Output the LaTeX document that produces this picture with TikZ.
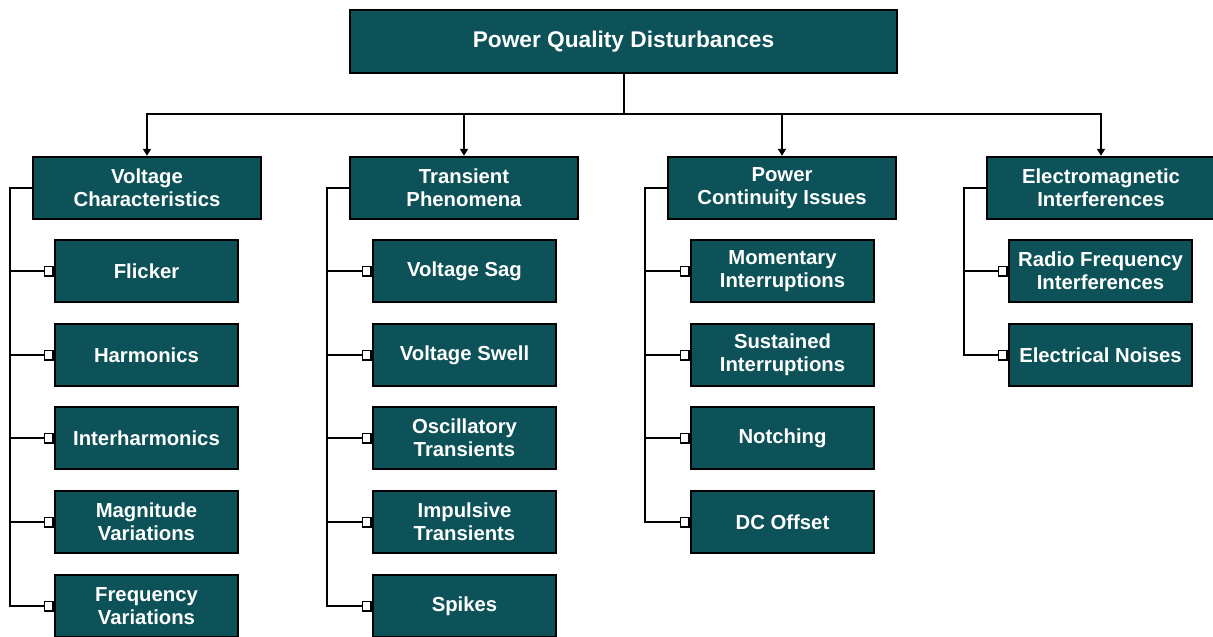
\documentclass[tikz,border=0pt]{standalone}
\usepackage{fontspec}
\setmainfont{Liberation Sans}
\usetikzlibrary{arrows.meta}
\definecolor{tealbox}{RGB}{12,82,88}
\begin{document}
\begin{tikzpicture}[x=1pt,y=-1pt,
  box/.style={draw=black, line width=2.4pt, fill=tealbox, text=white,
    font=\bfseries\fontsize{20.3}{23}\selectfont, align=center, inner sep=0pt,
    minimum width=228pt, minimum height=62pt},
  child/.style={box, minimum width=183pt},
  topbox/.style={box, minimum width=547pt, minimum height=63pt, font=\bfseries\fontsize{22.7}{26}\selectfont},
  link/.style={draw=black, line width=2pt},
  arr/.style={link, -{Triangle[length=7pt,width=8pt]}},
  sq/.style={link, -{Square[length=10pt,width=11pt,fill=white,line width=1.5pt]}}
]
\clip (0,0) rectangle (1213,637);
\fill[white] (0,0) rectangle (1213,637);

\node[topbox] (top) at (623.5,41.5) {Power Quality Disturbances};

\node[box] (c1) at (147,188) {Voltage\\Characteristics};
\node[box] (c2) at (464,188) {Transient\\Phenomena};
\node[box] (c3) at (782,188) {Power\\Continuity Issues};
\node[box] (c4) at (1101,188) {Electromagnetic\\Interferences};

\node[child] (a1) at (146.5,271) {Flicker};
\node[child] (a2) at (146.5,355) {Harmonics};
\node[child] (a3) at (146.5,438) {Interharmonics};
\node[child] (a4) at (146.5,522) {Magnitude\\Variations};
\node[child] (a5) at (146.5,606) {Frequency\\Variations};

\node[child] (b1) at (464.5,271) {Voltage Sag};
\node[child] (b2) at (464.5,355) {Voltage Swell};
\node[child] (b3) at (464.5,438) {Oscillatory\\Transients};
\node[child] (b4) at (464.5,522) {Impulsive\\Transients};
\node[child] (b5) at (464.5,606) {Spikes};

\node[child] (d1) at (782.5,271) {Momentary\\Interruptions};
\node[child] (d2) at (782.5,355) {Sustained\\Interruptions};
\node[child] (d3) at (782.5,438) {Notching};
\node[child] (d4) at (782.5,522) {DC Offset};

\node[child] (e1) at (1100.5,271) {Radio Frequency\\Interferences};
\node[child] (e2) at (1100.5,355) {Electrical Noises};

\coordinate (bus) at (623.5,114);
\draw[link] (top.south) -- (bus);
\foreach \c in {c1,c2,c3,c4} \draw[arr] (bus) -| (\c.north);

\foreach \k in {a1,a2,a3,a4,a5} \draw[sq] (c1.west) -- ++(-22,0) |- (\k.west);
\foreach \k in {b1,b2,b3,b4,b5} \draw[sq] (c2.west) -- ++(-22,0) |- (\k.west);
\foreach \k in {d1,d2,d3,d4} \draw[sq] (c3.west) -- ++(-22,0) |- (\k.west);
\foreach \k in {e1,e2} \draw[sq] (c4.west) -- ++(-22,0) |- (\k.west);
\end{tikzpicture}
\end{document}
